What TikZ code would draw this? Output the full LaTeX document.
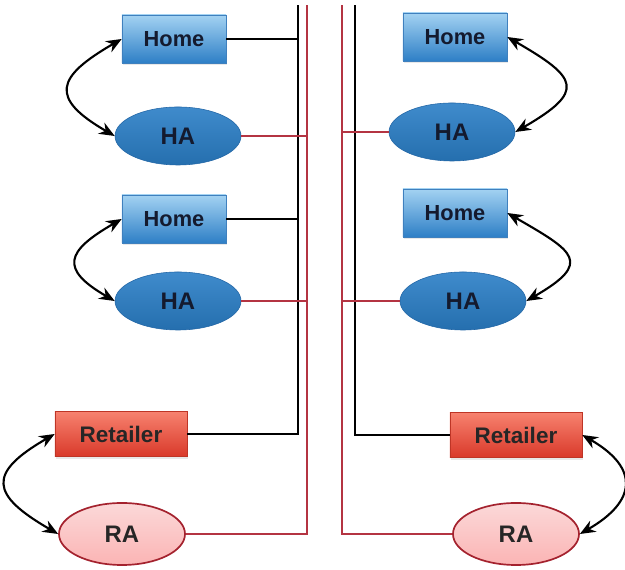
\documentclass[tikz,border=0pt]{standalone}
\usepackage{fontspec}
\setmainfont{Liberation Sans}
\usetikzlibrary{arrows.meta,shapes.geometric,shadows}

\definecolor{homeTop}{HTML}{A3D2F2}
\definecolor{homeBot}{HTML}{2E7FC6}
\definecolor{homeEdge}{HTML}{3F80BE}
\definecolor{haFill}{HTML}{2A7EC6}
\definecolor{haEdge}{HTML}{2266A6}
\definecolor{retTop}{HTML}{F7826F}
\definecolor{retBot}{HTML}{D9392A}
\definecolor{retEdge}{HTML}{BE3526}
\definecolor{raFill}{HTML}{FAC8C8}
\definecolor{raEdge}{HTML}{A4222E}
\definecolor{busRed}{HTML}{B43442}
\definecolor{ink}{HTML}{141A2E}

\tikzset{
  homebox/.style={rectangle, minimum width=2.6cm, minimum height=1.2cm,
    top color=homeTop, bottom color=homeBot, draw=homeEdge, thin,
    drop shadow={opacity=0.18, shadow xshift=1pt, shadow yshift=-1.5pt},
    text=ink, font=\bfseries\fontsize{15.5}{17}\selectfont},
  haoval/.style={ellipse, inner sep=0pt, minimum width=3.15cm, minimum height=1.45cm,
    top color=haFill!90!white, bottom color=haFill!88!black, draw=haEdge, thin,
    text=ink, font=\bfseries\fontsize{17}{19}\selectfont},
  retbox/.style={rectangle, minimum width=3.3cm, minimum height=1.13cm,
    top color=retTop, bottom color=retBot, draw=retEdge, thin,
    drop shadow={opacity=0.18, shadow xshift=1pt, shadow yshift=-1.5pt},
    text=black!85, font=\bfseries\fontsize{16}{18}\selectfont},
  raoval/.style={ellipse, inner sep=0pt, minimum width=3.15cm, minimum height=1.55cm,
    top color=raFill!70!white, bottom color=raFill!90!red, draw=raEdge, line width=1.2pt,
    text=black!85, font=\bfseries\fontsize{17}{19}\selectfont},
  wire/.style={black, line width=1.4pt},
  redwire/.style={busRed, line width=1pt},
  pairarrow/.style={<->, >={Stealth[length=11pt,width=9pt]}, line width=1.5pt, black},
}

\begin{document}
\begin{tikzpicture}[x=0.025cm,y=0.025cm]
  \useasboundingbox (0,0) rectangle (625,570);

  % top ends of the four bus lines
  \coordinate (blackL) at (298,565);
  \coordinate (redL)   at (307,565);
  \coordinate (redR)   at (342,565);
  \coordinate (blackR) at (355,565);

  % left side
  \node[homebox] (home1) at (174,531) {Home};
  \node[haoval]  (ha1)   at (178,434) {HA};
  \node[homebox] (home2) at (174,351) {Home};
  \node[haoval]  (ha2)   at (178,269) {HA};
  \node[retbox]  (ret1)  at (121,136) {Retailer};
  \node[raoval]  (ra1)   at (122,36)  {RA};

  % right side
  \node[homebox] (home3) at (455,533) {Home};
  \node[haoval]  (ha3)   at (452,438) {HA};
  \node[homebox] (home4) at (455,357) {Home};
  \node[haoval]  (ha4)   at (463,269) {HA};
  \node[retbox]  (ret2)  at (516,135) {Retailer};
  \node[raoval]  (ra2)   at (516,36)  {RA};

  % bus lines, each one starts at its lowest node
  \draw[wire]    (ret1.east) -| (blackL);
  \draw[redwire] (ra1.east)  -| (redL);
  \draw[redwire] (ra2.west)  -| (redR);
  \draw[wire]    (ret2.west) -| (blackR);

  % branches onto the bus
  \foreach \n in {home1,home2}
    \draw[wire] (\n.east) -- (\n.east -| blackL);
  \foreach \n in {ha1,ha2}
    \draw[redwire] (\n.east) -- (\n.east -| redL);
  \foreach \n in {ha3,ha4}
    \draw[redwire] (\n.west) -- (\n.west -| redR);

  % two way links between each pair
  \draw[pairarrow] (home1.west) to[out=210,in=150,looseness=2] (ha1.west);
  \draw[pairarrow] (home2.west) to[out=210,in=150,looseness=2] (ha2.west);
  \draw[pairarrow] (ret1.west)  to[out=210,in=150,looseness=2] (ra1.west);
  \draw[pairarrow] (home3.east) to[out=-30,in=30,looseness=2.2] (ha3.east);
  \draw[pairarrow] (home4.east) to[out=-30,in=30,looseness=2.2] (ha4.east);
  \draw[pairarrow] (ret2.east)  to[out=-30,in=30,looseness=1.7] (ra2.east);
\end{tikzpicture}
\end{document}
